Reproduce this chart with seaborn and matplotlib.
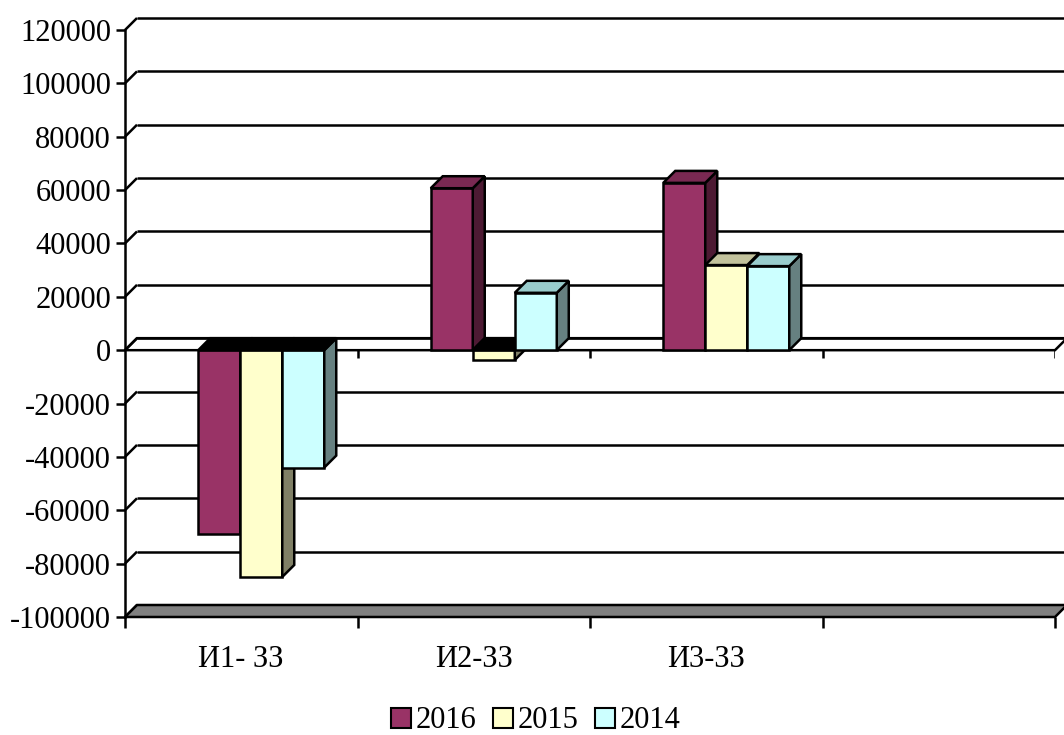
import numpy as np
import pandas as pd
import matplotlib
matplotlib.use("Agg")
import matplotlib.pyplot as plt
from matplotlib.patches import Polygon, Patch
import seaborn as sns

# ---- data -------------------------------------------------------------
categories = ["И1- ЗЗ", "И2-ЗЗ", "И3-ЗЗ"]
years = ["2016", "2015", "2014"]
values_2016 = [-69000, 60700, 62700]
values_2015 = [-85000, -3700, 31900]
values_2014 = [-44000, 21500, 31500]
y_ticks = list(range(-100000, 120001, 20000))

# ---- styling ----------------------------------------------------------
front_colors = ["#993366", "#FFFFCC", "#CCFFFF"]
side_colors = ["#4D1A33", "#808066", "#668080"]
top_colors = ["#7A2952", "#C2C29C", "#99CCCC"]
edge = "black"
lw = 1.8
fs = 22

sns.set_theme(style="white")
plt.rcParams["font.family"] = ["Liberation Serif", "DejaVu Serif"]
plt.rcParams["text.color"] = "black"
plt.rcParams["xtick.color"] = "black"
plt.rcParams["ytick.color"] = "black"

W, H = 1064, 735
fig = plt.figure(figsize=(W / 100, H / 100), dpi=100)
ax_l, ax_r, ax_t, ax_b = 125, 1055, 30, 617
ax = fig.add_axes([ax_l / W, 1 - ax_b / H, (ax_r - ax_l) / W, (ax_b - ax_t) / H])

df = pd.DataFrame({
    "category": categories * 3,
    "year": [y for y in years for _ in categories],
    "value": values_2016 + values_2015 + values_2014,
})

sns.barplot(data=df, x="category", y="value", hue="year", order=categories,
            hue_order=years, palette=front_colors, saturation=1, width=0.542,
            errorbar=None, edgecolor=edge, linewidth=lw, legend=False, ax=ax)

n_slots = 4
ymin, ymax = y_ticks[0], y_ticks[-1]
ax.set_xlim(-0.5, n_slots - 0.5)
ax.set_ylim(ymin, ymax)

# depth of the pseudo-3D walls, 12 px to the right and up
px_per_x = (ax_r - ax_l) / n_slots
px_per_y = (ax_b - ax_t) / (ymax - ymin)
dx = 12 / px_per_x
dy = 12 / px_per_y
shift = 20 / px_per_x

x_left, x_right = -0.5, n_slots - 0.5

# back wall gridlines and left wall diagonals
for v in y_ticks:
    ax.plot([x_left, x_left + dx], [v, v + dy], color=edge, lw=lw,
            clip_on=False, zorder=1, solid_capstyle="butt")
    if v != ymin:
        ax.plot([x_left + dx, x_right + dx + 0.1], [v + dy, v + dy], color=edge,
                lw=lw, clip_on=False, zorder=1, solid_capstyle="butt")

# outline of the plane at zero
ax.add_patch(Polygon([(x_left, 0), (x_right, 0), (x_right + dx, dy), (x_left + dx, dy)],
                     closed=True, facecolor="none", edgecolor=edge, lw=lw,
                     clip_on=False, zorder=1.2))
tick_len = 8 / px_per_y
for xb in np.arange(0.5, n_slots, 1.0):
    ax.plot([xb, xb], [0, -tick_len], color=edge, lw=lw, zorder=1.2,
            solid_capstyle="butt")

# grey floor
ax.add_patch(Polygon([(x_left, ymin), (x_right, ymin), (x_right + dx, ymin + dy),
                      (x_left + dx, ymin + dy)], closed=True, facecolor="#808080",
                     edgecolor=edge, lw=lw, clip_on=False, zorder=1.5))

# bar sides and tops
for k, cont in enumerate(ax.containers):
    z = 3 + k * 0.1
    for bar in cont:
        bar.set_x(bar.get_x() + shift)
        bar.set_zorder(z)
        x0 = bar.get_x()
        x1 = x0 + bar.get_width()
        h = bar.get_y() + bar.get_height()
        ax.add_patch(Polygon([(x1, 0), (x1 + dx, dy), (x1 + dx, h + dy), (x1, h)],
                             closed=True, facecolor=side_colors[k], edgecolor=edge,
                             lw=lw, zorder=z))
        ty = max(h, 0)
        tc = top_colors[k] if h > 0 else "black"
        ax.add_patch(Polygon([(x0, ty), (x1, ty), (x1 + dx, ty + dy), (x0 + dx, ty + dy)],
                             closed=True, facecolor=tc, edgecolor=edge, lw=lw, zorder=z))

# axes, ticks and labels
for s in ["top", "right", "bottom"]:
    ax.spines[s].set_visible(False)
ax.spines["left"].set_color(edge)
ax.spines["left"].set_linewidth(lw)
ax.spines["left"].set_zorder(5)

ax.set_yticks(y_ticks)
ax.set_yticklabels([str(v) for v in y_ticks], fontsize=fs)
ax.tick_params(axis="y", direction="out", length=6.5, width=lw, color=edge,
               pad=3.5, left=True, labelcolor="black")

ax.set_xticks(range(len(categories)))
ax.set_xticklabels(categories, fontsize=fs)
ax.set_xticks(np.arange(-0.5, n_slots, 1.0), minor=True)
ax.tick_params(axis="x", which="major", length=0, pad=20, labelcolor="black")
ax.tick_params(axis="x", which="minor", direction="out", length=8, width=lw,
               color=edge, bottom=True)
ax.set_xlabel("")
ax.set_ylabel("")
ax.grid(False)
ax.set_facecolor("white")

handles = [Patch(facecolor=c, edgecolor=edge, lw=1.5) for c in front_colors]
fig.legend(handles=handles, labels=years, loc="center",
           bbox_to_anchor=(536 / W, 1 - 721 / H), ncol=3, frameon=False,
           fontsize=fs, handlelength=0.65, handleheight=0.65, handletextpad=0.15,
           columnspacing=0.55, borderaxespad=0, labelcolor="black")

fig.savefig("out.png", dpi=100)
